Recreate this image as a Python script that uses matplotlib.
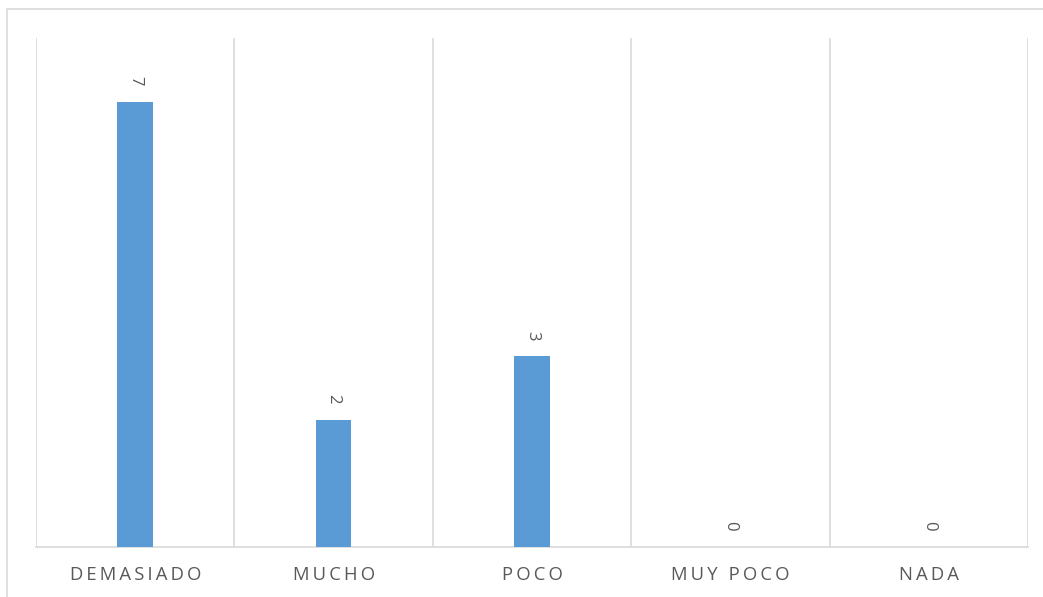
import numpy as np
import matplotlib
matplotlib.use('Agg')
import matplotlib.pyplot as plt
from matplotlib.patches import Rectangle

matplotlib.rcParams['font.family'] = ['Open Sans', 'DejaVu Sans']

categories = ['DEMASIADO', 'MUCHO', 'POCO', 'MUY POCO', 'NADA']
values = [7, 2, 3, 0, 0]

bar_color = '#5B9BD5'
text_color = '#595959'
grid_color = '#D9D9D9'

def spaced(s):
        # letter spacing like the original
        return '\u2009'.join(s)

fig = plt.figure(figsize=(10.43, 5.97), dpi=100)
ax = fig.add_axes([36/1043, 1-547/597, (1028-36)/1043, (547-38)/597])

x = np.arange(len(categories))
ax.bar(x, values, width=0.18, color=bar_color, zorder=3)
ax.set_xlim(-0.5, len(categories)-0.5)
ax.set_ylim(0, 8)

# vertical separators between categories
for b in np.arange(-0.5, len(categories), 1.0):
        ax.axvline(b, color=grid_color, lw=1.2, zorder=1)

for xi, v in zip(x, values):
        ax.annotate(str(v), (xi, v), xytext=(0, 11.5), textcoords='offset points',
                    ha='center', va='bottom', rotation=-90, fontsize=12, color=text_color)

ax.set_xticks(x)
ax.set_xticklabels([spaced(c) for c in categories], fontsize=13.3, color=text_color)
ax.tick_params(axis='x', length=0, pad=14)
ax.set_yticks([])
for s in ['top', 'right', 'left']:
        ax.spines[s].set_visible(False)
ax.spines['bottom'].set_color(grid_color)
ax.spines['bottom'].set_linewidth(1.2)

# chart area border
fig.patches.append(Rectangle((7/1043, -0.05), 1.1, 1-9/597+0.05, transform=fig.transFigure,
                             fill=False, edgecolor=grid_color, lw=1.2))

fig.savefig('out.png', dpi=100, facecolor='white')
